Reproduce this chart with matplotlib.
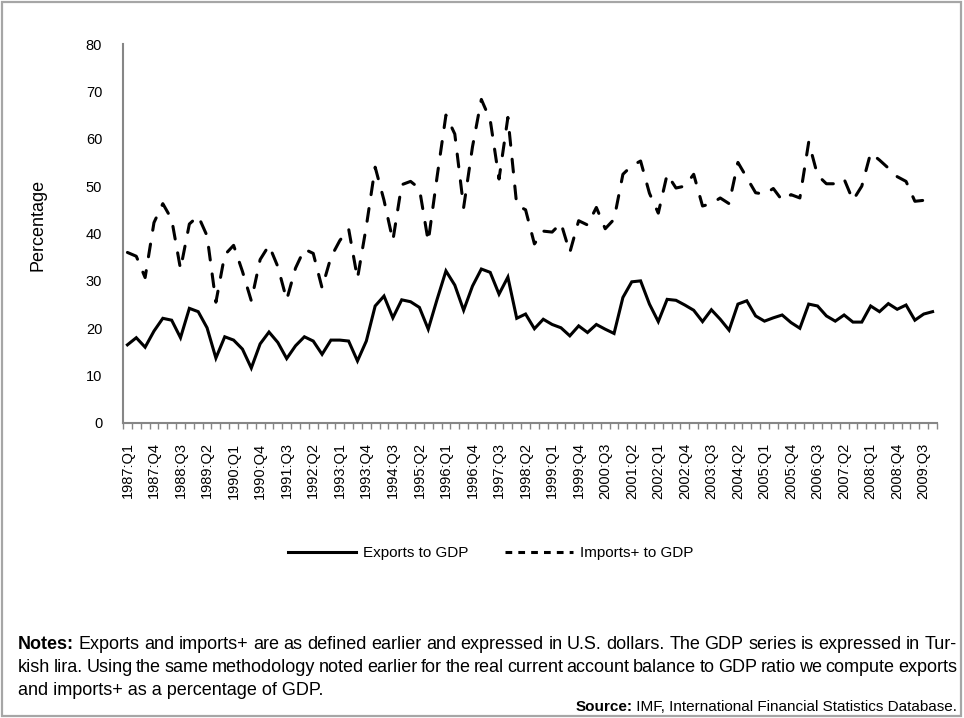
import matplotlib
matplotlib.use('Agg')
import matplotlib.pyplot as plt
from matplotlib.lines import Line2D
from matplotlib.patches import Rectangle
from matplotlib import font_manager

# quarters 1987:Q1 .. 2009:Q4
quarters = [f"{y}:Q{q}" for y in range(1987, 2010) for q in range(1, 5)]

exports = [16.5, 18.0, 16.0, 19.4, 22.1, 21.7, 18.0, 24.2, 23.5, 20.1,
           13.7, 18.2, 17.5, 15.6, 11.6, 16.7, 19.2, 17.0, 13.6, 16.3,
           18.2, 17.3, 14.5, 17.5, 17.5, 17.3, 13.1, 17.3, 24.7, 26.8,
           22.2, 26.0, 25.6, 24.4, 19.8, 26.1, 32.1, 29.1, 23.8, 28.9,
           32.5, 31.8, 27.2, 30.8, 22.1, 23.0, 19.9, 21.9, 20.8, 20.1,
           18.4, 20.5, 19.1, 20.8, 19.8, 18.9, 26.5, 29.8, 30.0, 25.1,
           21.4, 26.1, 25.9, 24.9, 23.8, 21.4, 23.9, 21.9, 19.6, 25.1,
           25.8, 22.6, 21.5, 22.2, 22.8, 21.2, 20.0, 25.1, 24.7, 22.6,
           21.5, 22.8, 21.3, 21.3, 24.7, 23.5, 25.2, 24.0, 24.9, 21.7,
           23.0, 23.5]

imports = [36.0, 35.2, 30.7, 42.3, 46.3, 43.0, 32.5, 42.0, 43.7, 39.5,
           25.5, 35.5, 37.5, 32.0, 25.8, 34.5, 37.5, 33.0, 26.0, 32.7,
           36.7, 35.8, 28.5, 35.0, 38.5, 41.0, 30.5, 41.5, 54.0, 47.0,
           38.5, 50.3, 51.0, 49.5, 38.3, 52.0, 65.0, 61.0, 45.5, 58.3,
           68.3, 64.0, 51.5, 64.5, 46.0, 45.0, 37.8, 40.5, 40.3, 42.2,
           36.0, 42.7, 41.8, 45.5, 41.0, 43.0, 52.5, 54.3, 55.3, 48.5,
           44.3, 52.5, 49.6, 50.0, 52.5, 45.8, 46.3, 47.5, 46.3, 55.0,
           51.8, 48.6, 48.3, 49.5, 47.0, 48.2, 47.5, 59.3, 52.3, 50.5,
           50.5, 51.5, 47.0, 50.0, 57.0, 55.5, 53.8, 52.0, 51.0, 46.8,
           47.0, 47.3]

yticks = [0, 10, 20, 30, 40, 50, 60, 70, 80]

W, H = 964, 718
plt.rcParams['font.family'] = ['Liberation Sans', 'DejaVu Sans']
names = {f.name for f in font_manager.fontManager.ttflist}
note_font = 'Liberation Sans Narrow' if 'Liberation Sans Narrow' in names else 'Liberation Sans'

fig = plt.figure(figsize=(W / 100, H / 100), dpi=100)
ax = fig.add_axes([123 / W, 1 - 423 / H, (937 - 123) / W, (423 - 44) / H])

x = list(range(len(quarters)))
ax.plot(x, exports, color='black', lw=2.2, solid_joinstyle='miter')
ax.plot(x, imports, color='black', lw=2.2, dashes=(4.2, 4.6),
        dash_capstyle='round', dash_joinstyle='round')

ax.set_xlim(-0.5, len(quarters) - 0.5)
ax.set_ylim(0, 80)
ax.set_yticks(yticks)
ax.tick_params(axis='y', length=0, pad=15, labelsize=10.5)
ax.set_xticks(x[::3])
ax.set_xticklabels(quarters[::3], rotation=90)
ax.set_xticks([i - 0.5 for i in range(len(quarters) + 1)], minor=True)
ax.tick_params(axis='x', which='major', length=0, pad=14, labelsize=10.5)
ax.tick_params(axis='x', which='minor', length=4, width=1, color='#868686',
               direction='out')
for s in ['top', 'right']:
    ax.spines[s].set_visible(False)
for s in ['left', 'bottom']:
    ax.spines[s].set_color('#868686')
    ax.spines[s].set_linewidth(1.5)

fig.text(38 / W, 1 - 225 / H, 'Percentage', rotation=90, ha='center',
         va='center', fontsize=13)

handles = [Line2D([], [], color='black', lw=2.2),
           Line2D([], [], color='black', lw=2.2, dashes=(2.2, 2.0))]
fig.legend(handles, ['Exports to GDP', 'Imports+ to GDP'], loc='center',
           bbox_to_anchor=(491 / W, 1 - 553 / H), ncol=2, frameon=False,
           fontsize=11, handlelength=4.4, handletextpad=0.5, columnspacing=2.4)

# notes, justified like the original
renderer = fig.canvas.get_renderer()
note_size = 13


def put_line(words, y, left=18, right=957):
    texts = []
    for w, bold in words:
        t = fig.text(left / W, 1 - y / H, w, fontsize=note_size, family=note_font,
                     weight='bold' if bold else 'normal', va='baseline')
        texts.append(t)
    widths = [t.get_window_extent(renderer).width for t in texts]
    gap = max((right - left - sum(widths)) / (len(texts) - 1), 2)
    xp = left
    for t, w in zip(texts, widths):
        t.set_x(xp / W)
        xp += w + gap


def words_of(s, bold_first=False):
    ws = s.split(' ')
    return [(w, bold_first and i == 0) for i, w in enumerate(ws)]


put_line(words_of("Notes: Exports and imports+ are as defined earlier and expressed in "
                  "U.S. dollars. The GDP series is expressed in Tur-", True), 649)
put_line(words_of("kish lira. Using the same methodology noted earlier for the real "
                  "current account balance to GDP ratio we compute exports"), 672)
fig.text(18 / W, 1 - 695 / H, "and imports+ as a percentage of GDP.", fontsize=note_size,
         family=note_font, va='baseline')

src1 = fig.text(0, 1 - 711 / H, 'Source:', fontsize=11, family=note_font,
                weight='bold', va='baseline')
src2 = fig.text(957 / W, 1 - 711 / H, ' IMF, International Financial Statistics Database.',
                fontsize=11, family=note_font, ha='right', va='baseline')
w2 = src2.get_window_extent(renderer).width
w1 = src1.get_window_extent(renderer).width
src1.set_x((957 - w2 - w1) / W)

fig.patches.append(Rectangle((2 / W, 2 / H), 959 / W, 714 / H, transform=fig.transFigure,
                             fill=False, edgecolor='#a6a6a6', lw=1.6))

fig.savefig('out.png', dpi=100)
